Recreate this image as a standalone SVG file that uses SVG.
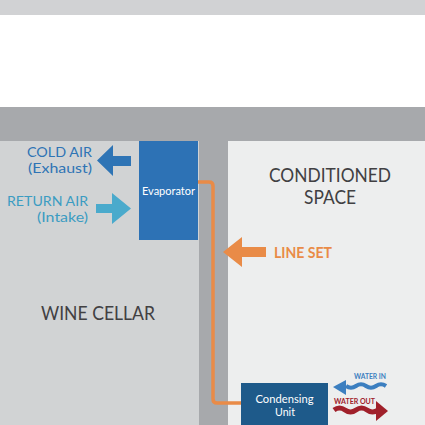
<svg xmlns="http://www.w3.org/2000/svg" width="425" height="425" viewBox="0 0 425 425">
<style>
text{font-family:Lato,"Open Sans","Liberation Sans",sans-serif}
.room{font-size:19px;fill:#414042;text-anchor:middle}
.white{fill:#fff;font-size:10.5px;text-anchor:middle}
.cold{fill:#2e74b5;font-size:14px;text-anchor:end}
.ret{fill:#3b9cc2;font-size:14px;text-anchor:end}
</style>
<rect x="0" y="0" width="425" height="15" fill="#d1d2d4"/>
<rect x="0" y="15" width="425" height="92" fill="#ffffff"/>
<rect x="0" y="107" width="425" height="318" fill="#a7a9ac"/>
<rect x="0" y="141" width="199" height="284" fill="#d1d3d4"/>
<rect x="228" y="141" width="197" height="284" fill="#edeeee"/>
<text class="room" x="98" y="320" textLength="114" lengthAdjust="spacingAndGlyphs">WINE CELLAR</text>
<text class="room" x="330" y="182" textLength="122" lengthAdjust="spacingAndGlyphs">CONDITIONED</text>
<text class="room" x="330" y="204" textLength="52" lengthAdjust="spacingAndGlyphs">SPACE</text>
<g id="connectors">
<path d="M198,182 H209 Q213,182 213,186 V399 Q213,403 217,403 H241" fill="none" stroke="#e98b47" stroke-width="3.5"/>
</g>
<g id="evaporator">
<rect x="139" y="141" width="59" height="99" fill="#2d72b5"/>
<text class="white" x="168.5" y="195" textLength="53" lengthAdjust="spacingAndGlyphs">Evaporator</text>
</g>
<g id="condensing-unit">
<rect x="241" y="383" width="87" height="42" fill="#1e5a8a"/>
<text class="white" x="284.5" y="403" textLength="58" lengthAdjust="spacingAndGlyphs">Condensing</text>
<text class="white" x="285" y="415.5" textLength="20" lengthAdjust="spacingAndGlyphs">Unit</text>
</g>
<g id="cold-air">
<polygon points="97,160.5 113,145 113,156 131,156 131,166 113,166 113,176" fill="#2e74b5"/>
<text class="cold" x="92" y="156.5" textLength="65" lengthAdjust="spacingAndGlyphs">COLD AIR</text>
<text class="cold" x="92" y="173" textLength="64" lengthAdjust="spacingAndGlyphs">(Exhaust)</text>
</g>
<g id="return-air">
<polygon points="131,208.5 112,193 112,204 96,204 96,213 112,213 112,224" fill="#4aaacc"/>
<text class="ret" x="88" y="205.5" textLength="81" lengthAdjust="spacingAndGlyphs">RETURN AIR</text>
<text class="ret" x="88" y="222" textLength="51" lengthAdjust="spacingAndGlyphs">(Intake)</text>
</g>
<g id="line-set">
<polygon points="223,252 242,237 242,247 266,247 266,257 242,257 242,267" fill="#e98b47"/>
<text x="274" y="258" font-size="15" fill="#e98b47" font-weight="700" textLength="58" lengthAdjust="spacingAndGlyphs">LINE SET</text>
</g>
<g id="water-in">
<path d="M386,386 q-5,-3.5 -10,0 t-10,0 t-10,0 t-10,0" fill="none" stroke="#3c7fc0" stroke-width="4"/>
<polygon points="333,387 346,380 346,395" fill="#3c7fc0"/>
<text x="354" y="379" font-size="7.5" font-weight="700" fill="#3c7fc0" textLength="32" lengthAdjust="spacingAndGlyphs">WATER IN</text>
</g>
<g id="water-out">
<path d="M334,410 q5.5,-4 11,0 t11,0 t11,0 t11,0" fill="none" stroke="#a0202a" stroke-width="5"/>
<polygon points="388,411 376,401 376,421" fill="#a0202a"/>
<text x="334" y="404" font-size="7.5" font-weight="700" fill="#a0202a" textLength="41" lengthAdjust="spacingAndGlyphs">WATER OUT</text>
</g>
</svg>
